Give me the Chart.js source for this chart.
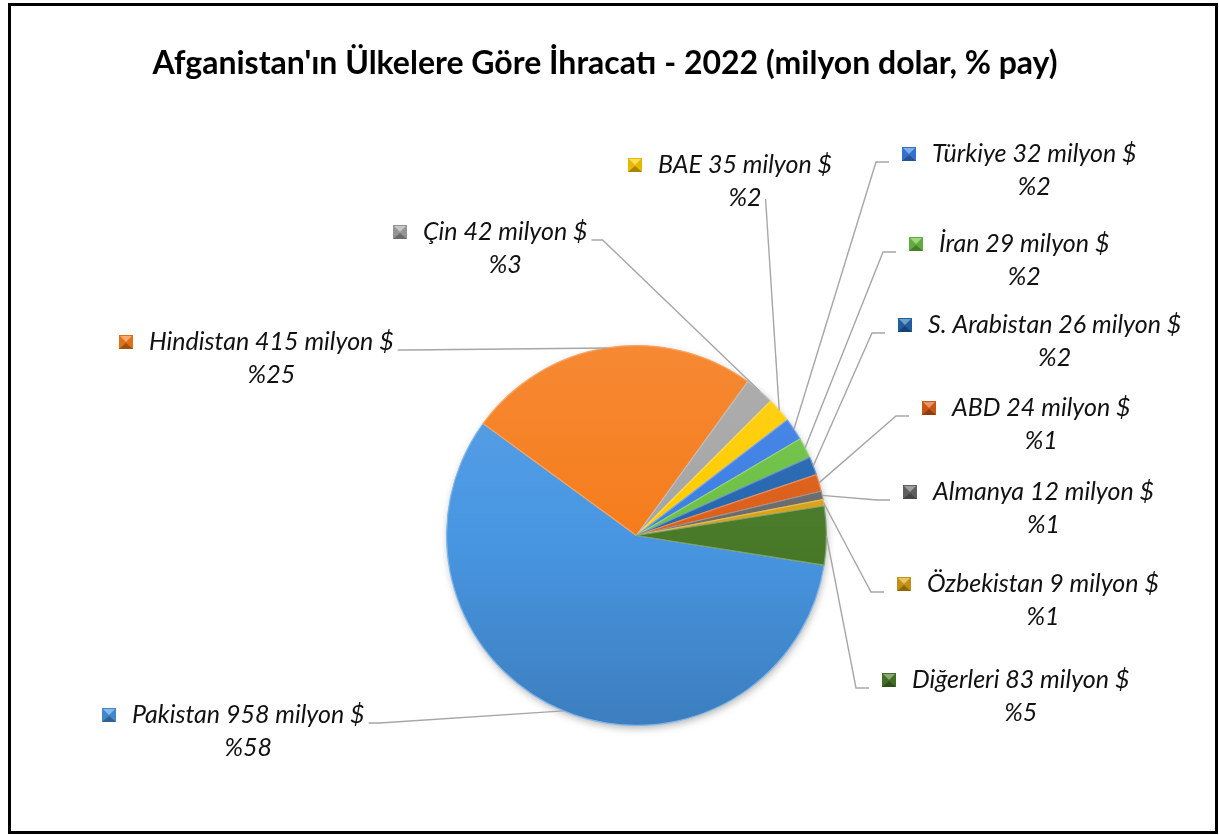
<!DOCTYPE html>
<html lang="tr">
<head>
<meta charset="utf-8">
<title>Afganistan İhracatı 2022</title>
<script src="https://cdn.jsdelivr.net/npm/chart.js@4.4.1/dist/chart.umd.min.js"></script>
<style>
  html, body { margin: 0; padding: 0; background: #fff; }
  #wrap { position: relative; width: 1219px; height: 835px; }
</style>
</head>
<body>
<div id="wrap"><canvas id="exports-chart"></canvas></div>
<script>
/*////////////////////////////////
///            Data            ///
////////////////////////////////*/

const countries = ['Pakistan', 'Hindistan', 'Çin', 'BAE', 'Türkiye', 'İran', 'S. Arabistan', 'ABD', 'Almanya', 'Özbekistan', 'Diğerleri'];
const exportsMillion = [958, 415, 42, 35, 32, 29, 26, 24, 12, 9, 83];
const titleText = "Afganistan'ın Ülkelere Göre İhracatı - 2022 (milyon dolar, % pay)";

/*////////////////////////////////
///           Styles           ///
////////////////////////////////*/

const sliceColors = ['#4896E2', '#F57C1C', '#A5A5A5', '#FFCC00', '#3B7EE3', '#6CC043',
                     '#2466B0', '#DC5E18', '#6A6A6A', '#D9A116', '#487A28'];

// marker left x, first line baseline y, side the leader line leaves from
const labelSpots = [
  [102, 723, 'right'],
  [119, 350, 'right'],
  [393, 240, 'right'],
  [628, 173, 'bottom'],
  [902, 162, 'left'],
  [909, 252, 'left'],
  [898, 333, 'left'],
  [922, 416, 'left'],
  [903, 500, 'left'],
  [897, 592, 'left'],
  [882, 688, 'left']
];

function shade(hex, amt) {
  let r = parseInt(hex.slice(1, 3), 16);
  let g = parseInt(hex.slice(3, 5), 16);
  let b = parseInt(hex.slice(5, 7), 16);
  const t = amt < 0 ? 0 : 255;
  const p = Math.abs(amt);
  r = Math.round((t - r) * p + r);
  g = Math.round((t - g) * p + g);
  b = Math.round((t - b) * p + b);
  return `rgb(${r}, ${g}, ${b})`;
}

function sliceFill(context) {
  const chart = context.chart;
  const area = chart.chartArea;
  const base = sliceColors[context.dataIndex];
  if (!area) return base;
  const g = chart.ctx.createLinearGradient(0, area.top, 0, area.bottom);
  g.addColorStop(0, shade(base, 0.1));
  g.addColorStop(0.5, base);
  g.addColorStop(1, shade(base, -0.16));
  return g;
}

/*////////////////////////////////
///          Plugins           ///
////////////////////////////////*/

const pieShadow = {
  id: 'pieShadow',
  beforeDatasetsDraw(chart) {
    const arc = chart.getDatasetMeta(0).data[0];
    if (!arc) return;
    const ctx = chart.ctx;
    ctx.save();
    ctx.shadowColor = 'rgba(0, 0, 0, 0.35)';
    ctx.shadowBlur = 9;
    ctx.shadowOffsetX = 1;
    ctx.shadowOffsetY = 3;
    ctx.fillStyle = '#888';
    ctx.beginPath();
    ctx.arc(arc.x, arc.y, arc.outerRadius - 1, 0, Math.PI * 2);
    ctx.fill();
    ctx.restore();
  }
};

function drawMarker(ctx, x, y, color) {
  const s = 14;
  ctx.fillStyle = shade(color, -0.1);
  ctx.fillRect(x, y, s, s);
  // lighter top facet, darker bottom
  ctx.fillStyle = shade(color, 0.35);
  ctx.beginPath();
  ctx.moveTo(x + 1, y + 1); ctx.lineTo(x + s - 1, y + 1); ctx.lineTo(x + s / 2, y + s / 2);
  ctx.fill();
  ctx.fillStyle = shade(color, -0.35);
  ctx.beginPath();
  ctx.moveTo(x, y + s); ctx.lineTo(x + s, y + s); ctx.lineTo(x + s / 2, y + s / 2 + 1);
  ctx.fill();
}

const sliceLabels = {
  id: 'sliceLabels',
  afterDatasetsDraw(chart) {
    const ctx = chart.ctx;
    const meta = chart.getDatasetMeta(0);
    const total = exportsMillion.reduce((a, b) => a + b, 0);
    ctx.save();
    ctx.font = 'italic 25px Lato';
    ctx.textBaseline = 'alphabetic';
    meta.data.forEach((arc, i) => {
      const [mx, base, side] = labelSpots[i];
      const line1 = `${countries[i]} ${exportsMillion[i]} milyon $`;
      const line2 = '%' + Math.round(exportsMillion[i] / total * 100);
      const tx = mx + 30;
      const w1 = ctx.measureText(line1).width;
      const w2 = ctx.measureText(line2).width;
      const cx = tx + w1 / 2;

      // leader line to the middle of the slice edge
      const mid = (arc.startAngle + arc.endAngle) / 2;
      const ex = arc.x + Math.cos(mid) * arc.outerRadius;
      const ey = arc.y + Math.sin(mid) * arc.outerRadius;
      ctx.strokeStyle = '#A6A6A6';
      ctx.lineWidth = 1.4;
      ctx.beginPath();
      if (side == 'left') {
        ctx.moveTo(mx - 13, base);
        ctx.lineTo(mx - 26, base);
      } else if (side == 'right') {
        ctx.moveTo(tx + w1 + 4, base);
        ctx.lineTo(tx + w1 + 15, base);
      } else {
        ctx.moveTo(cx + w2 / 2 + 4, base + 26);
      }
      ctx.lineTo(ex, ey);
      ctx.stroke();

      drawMarker(ctx, mx, base - 15, sliceColors[i]);
      ctx.fillStyle = '#111';
      ctx.textAlign = 'left';
      ctx.fillText(line1, tx, base);
      ctx.textAlign = 'center';
      ctx.fillText(line2, cx, base + 33);
    });
    ctx.restore();
  }
};

const titleAndFrame = {
  id: 'titleAndFrame',
  afterDraw(chart) {
    const ctx = chart.ctx;
    ctx.save();
    ctx.fillStyle = '#000';
    ctx.font = 'bold 32px Lato';
    ctx.textAlign = 'center';
    ctx.textBaseline = 'alphabetic';
    ctx.fillText(titleText, 605, 74);
    ctx.strokeStyle = '#000';
    ctx.lineWidth = 3;
    ctx.strokeRect(9.5, 4.5, 1207, 828);
    ctx.restore();
  }
};

/*////////////////////////////////
///         Pie Chart          ///
////////////////////////////////*/

let exportsCtx = document.getElementById('exports-chart').getContext('2d');

let exportsChart = new Chart(exportsCtx, {
  type: 'pie',
  data: {
    labels: countries,
    datasets: [{
      label: 'İhracat (milyon $)',
      data: exportsMillion,
      backgroundColor: sliceFill,
      borderColor: sliceColors.map(c => shade(c, 0.3)),
      borderWidth: 1.2,
      hoverOffset: 0
    }]
  },
  options: {
    responsive: true,
    maintainAspectRatio: false,
    animation: false,
    events: [],
    rotation: 99,
    layout: {
      padding: { left: 446, right: 392, top: 345, bottom: 109 }
    },
    plugins: {
      legend: { display: false },
      title: { display: false },
      tooltip: { enabled: false }
    }
  },
  plugins: [pieShadow, sliceLabels, titleAndFrame]
});
</script>
</body>
</html>
